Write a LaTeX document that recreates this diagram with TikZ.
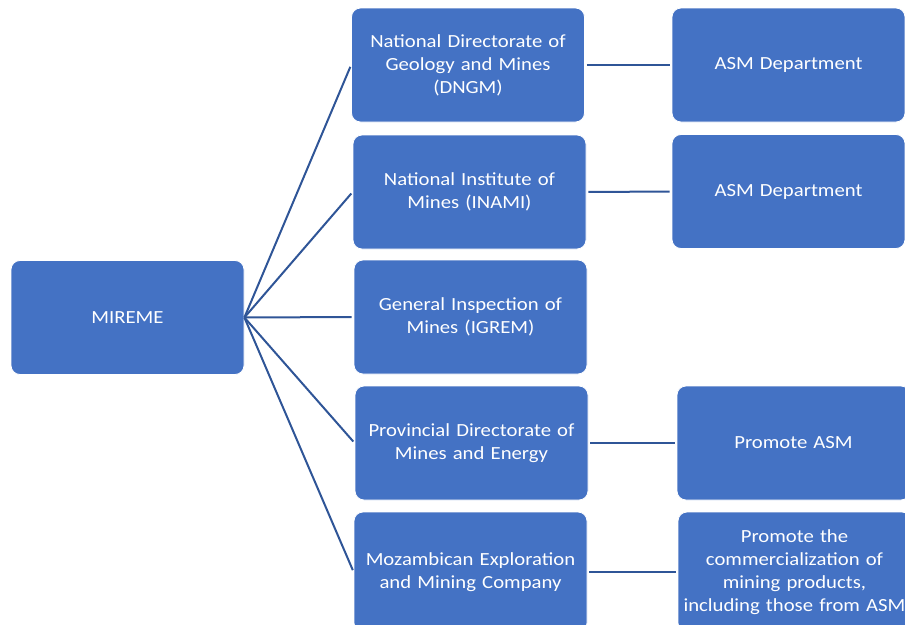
\documentclass[tikz,border=0pt]{standalone}
\usepackage{fontspec}
\setmainfont{Carlito}[FakeStretch=1.12]
\definecolor{boxfill}{HTML}{4472C4}
\definecolor{linecol}{HTML}{2F5597}
\tikzset{
  box/.style={rectangle, rounded corners=9pt, fill=boxfill, draw=white, line width=0.8pt,
    minimum width=233pt, minimum height=114pt, inner sep=0pt, text width=228pt,
    align=center, text=white, font=\fontsize{18.5}{23}\selectfont},
  tallbox/.style={box, minimum height=120pt},
  conn/.style={draw=linecol, line width=2pt}
}
\begin{document}
\begin{tikzpicture}[x=1pt,y=-1pt]
\useasboundingbox (0,0) rectangle (905,624);
\clip (0,0) rectangle (905,624);
\node[box] (mireme) at (127.5,317.5) {MIREME};
\node[box] (d1) at (468,65) {National Directorate of\\Geology and Mines\\(DNGM)};
\node[box] (d2) at (469.5,192) {National Institute of\\Mines (INAMI)};
\node[box] (d3) at (470.5,317) {General Inspection of\\Mines (IGREM)};
\node[box] (d4) at (471.5,443) {Provincial Directorate of\\Mines and Energy};
\node[tallbox] (d5) at (470.5,572) {Mozambican Exploration\\and Mining Company};
\node[box] (r1) at (788.5,65) {ASM Department};
\node[box] (r2) at (788.5,191.5) {ASM Department};
\node[box] (r4) at (793.5,443) {Promote ASM};
\node[tallbox] (r5) at (794.5,572) {Promote the\\commercialization of\\mining products,\\including those from ASM};
\foreach \d in {d1,d2,d3,d4,d5}
  \draw[conn, shorten >=2pt] (mireme.east) -- (\d.west);
\draw[conn, shorten >=2pt, shorten <=2pt] (d1.east) -- (r1.west);
\draw[conn, shorten >=2pt, shorten <=2pt] (d2.east) -- (r2.west);
\draw[conn, shorten >=2pt, shorten <=2pt] (d4.east) -- (r4.west);
\draw[conn, shorten >=2pt, shorten <=2pt] (d5.east) -- (r5.west);
\end{tikzpicture}
\end{document}
